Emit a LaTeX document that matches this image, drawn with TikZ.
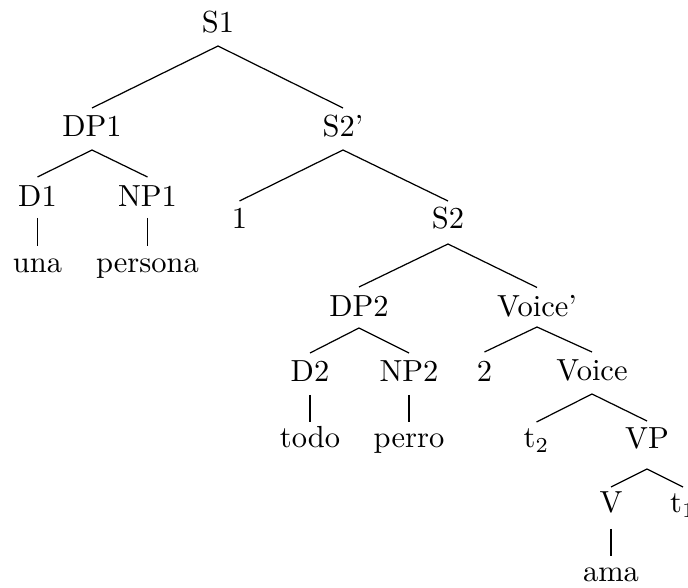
\documentclass[tikz,border=0pt]{standalone}
\usetikzlibrary{calc}
\newcommand\treeedge[4]{\draw[edge] ($(#1.base)+(0,#3)$) -- ($(#2.base)+(0,-#4)$);}
\begin{document}
\begin{tikzpicture}[x=0.3279pt,y=-0.3279pt,
  lbl/.style={anchor=base,inner sep=0pt},
  edge/.style={line width=0.4pt}]
\clip (0,0) rectangle (688,588);
\useasboundingbox (0,0) rectangle (688,588);
\node[lbl] (S1) at (218,33) {S1};
\node[lbl] (DP1) at (92,136.5) {DP1};
\node[lbl] (S2p) at (343,136.5) {S2'};
\node[lbl] (D1) at (37.5,206.5) {D1};
\node[lbl] (NP1) at (147.5,206.5) {NP1};
\node[lbl] (una) at (37.5,273) {una};
\node[lbl] (persona) at (147.5,273) {persona};
\node[lbl] (one) at (239.5,229) {1};
\node[lbl] (S2) at (448,229) {S2};
\node[lbl] (DP2) at (359,316.5) {DP2};
\node[lbl] (Voicep) at (537,316.5) {Voice'};
\node[lbl] (D2) at (310,381.5) {D2};
\node[lbl] (NP2) at (409,381.5) {NP2};
\node[lbl] (two) at (484.5,381.5) {2};
\node[lbl] (Voice) at (592,381) {Voice};
\node[lbl] (todo) at (310,448) {todo};
\node[lbl] (perro) at (409,448) {perro};
\node[lbl] (t2) at (536.5,448) {t$_2$};
\node[lbl] (VP) at (647,448.5) {VP};
\node[lbl] (V) at (611,513) {V};
\node[lbl] (t1) at (683,513) {t$_1$};
\node[lbl] (ama) at (611,582) {ama};
\treeedge{S1}{DP1}{13}{28.5}
\treeedge{S1}{S2p}{13}{28.5}
\treeedge{DP1}{D1}{13.5}{29.5}
\treeedge{DP1}{NP1}{13.5}{29.5}
\treeedge{D1}{una}{11.5}{27}
\treeedge{NP1}{persona}{11.5}{27}
\treeedge{S2p}{one}{13.5}{28}
\treeedge{S2p}{S2}{13.5}{28}
\treeedge{S2}{DP2}{15}{29.5}
\treeedge{S2}{Voicep}{15}{29}
\treeedge{DP2}{D2}{11.5}{28.5}
\treeedge{DP2}{NP2}{11.5}{28.5}
\treeedge{D2}{todo}{13.5}{26}
\treeedge{NP2}{perro}{13.5}{26}
\treeedge{Voicep}{two}{10.5}{29.5}
\treeedge{Voicep}{Voice}{10.5}{29}
\treeedge{Voice}{t2}{13}{26}
\treeedge{Voice}{VP}{13}{27.5}
\treeedge{VP}{V}{20.5}{26}
\treeedge{VP}{t1}{20.5}{26}
\treeedge{V}{ama}{16}{26}
\end{tikzpicture}
\end{document}
